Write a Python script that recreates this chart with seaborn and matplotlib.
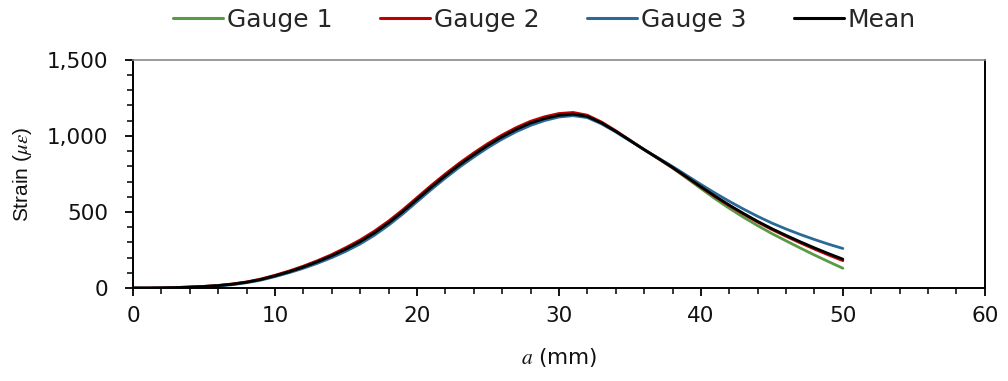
import numpy as np
import pandas as pd
import matplotlib
matplotlib.use("Agg")
import matplotlib.pyplot as plt
import seaborn as sns
from matplotlib.ticker import MultipleLocator, FuncFormatter

# crack length a (mm)
a_mm = list(range(51))

gauge1 = [0, 0, 2, 4, 6, 11, 17, 26, 39, 57, 81, 108, 140, 176, 216, 260, 309, 365,
          431, 505, 585, 665, 741, 813, 879, 941, 997, 1046, 1087, 1115, 1134, 1142,
          1128, 1085, 1030, 970, 910, 850, 789, 722, 654, 587, 524, 465, 410, 358,
          310, 263, 217, 173, 130]
gauge2 = [0, 0, 1, 3, 7, 11, 17, 27, 40, 59, 84, 112, 144, 180, 220, 266, 316, 374,
          440, 514, 594, 674, 750, 822, 888, 950, 1006, 1055, 1096, 1126, 1147, 1154,
          1136, 1091, 1034, 972, 910, 851, 791, 728, 663, 601, 541, 486, 433, 385,
          340, 297, 256, 217, 180]
gauge3 = [0, 0, 0, 2, 5, 8, 14, 22, 35, 52, 75, 101, 130, 163, 200, 242, 290, 347,
          413, 487, 567, 647, 723, 795, 861, 923, 979, 1028, 1069, 1101, 1124, 1133,
          1120, 1079, 1026, 968, 910, 855, 799, 740, 681, 624, 570, 519, 471, 427,
          388, 352, 319, 288, 260]
mean = [0, 0, 1, 3, 6, 10, 16, 25, 38, 56, 80, 107, 138, 173, 212, 256, 305, 362,
        428, 502, 582, 662, 738, 810, 876, 938, 994, 1043, 1084, 1114, 1135, 1143,
        1128, 1085, 1030, 970, 910, 852, 793, 730, 666, 604, 545, 490, 438, 390,
        346, 304, 264, 226, 190]

series_names = ["Gauge 1", "Gauge 2", "Gauge 3", "Mean"]
series_colors = ["#5a9a45", "#c00000", "#2c6a96", "#000000"]

df = pd.DataFrame({"a": a_mm, "Gauge 1": gauge1, "Gauge 2": gauge2,
                   "Gauge 3": gauge3, "Mean": mean})
long = df.melt(id_vars="a", var_name="series", value_name="strain")

sns.set_theme(style="ticks")
plt.rcParams["font.family"] = ["DejaVu Sans"]
plt.rcParams["mathtext.fontset"] = "stix"

fig = plt.figure(figsize=(10.08, 3.81), dpi=100)
ax = fig.add_axes([0.132, 0.244, 0.845, 0.599])

sns.lineplot(data=long, x="a", y="strain", hue="series", hue_order=series_names,
             palette=dict(zip(series_names, series_colors)), linewidth=2.0,
             ax=ax, sort=False)

ax.set_xlim(0, 60)
ax.set_ylim(0, 1500)
ax.xaxis.set_major_locator(MultipleLocator(10))
ax.xaxis.set_minor_locator(MultipleLocator(2))
ax.yaxis.set_major_locator(MultipleLocator(500))
ax.yaxis.set_minor_locator(MultipleLocator(100))
ax.yaxis.set_major_formatter(FuncFormatter(lambda v, p: f"{v:,.0f}"))

ax.tick_params(axis="both", which="major", labelsize=15.5, length=6, width=1.3,
               color="black", direction="out", labelcolor="#111111")
ax.tick_params(axis="both", which="minor", length=4, width=1.1, color="black",
               direction="out")
ax.tick_params(axis="y", which="major", pad=12)
ax.tick_params(axis="x", which="major", pad=7)

for side in ["left", "bottom", "right"]:
    ax.spines[side].set_color("black")
    ax.spines[side].set_linewidth(1.4)
ax.spines["top"].set_color("#8a8a8a")
ax.spines["top"].set_linewidth(1.2)

ax.set_xlabel("$a$ (mm)", fontsize=15.5, labelpad=14, color="#111111")
ax.set_ylabel("Strain ($\\mu\\varepsilon$)", fontsize=15, labelpad=9,
              color="#111111", family=["Liberation Sans", "DejaVu Sans"])

sns.move_legend(ax, "center", bbox_to_anchor=(0.54, 0.947),
                bbox_transform=fig.transFigure, ncol=4, frameon=False,
                title=None, fontsize=18, handlelength=2.0, handletextpad=0.16,
                columnspacing=1.9)
for line in ax.get_legend().get_lines():
    line.set_linewidth(2.2)

fig.savefig("out.png", dpi=100)
